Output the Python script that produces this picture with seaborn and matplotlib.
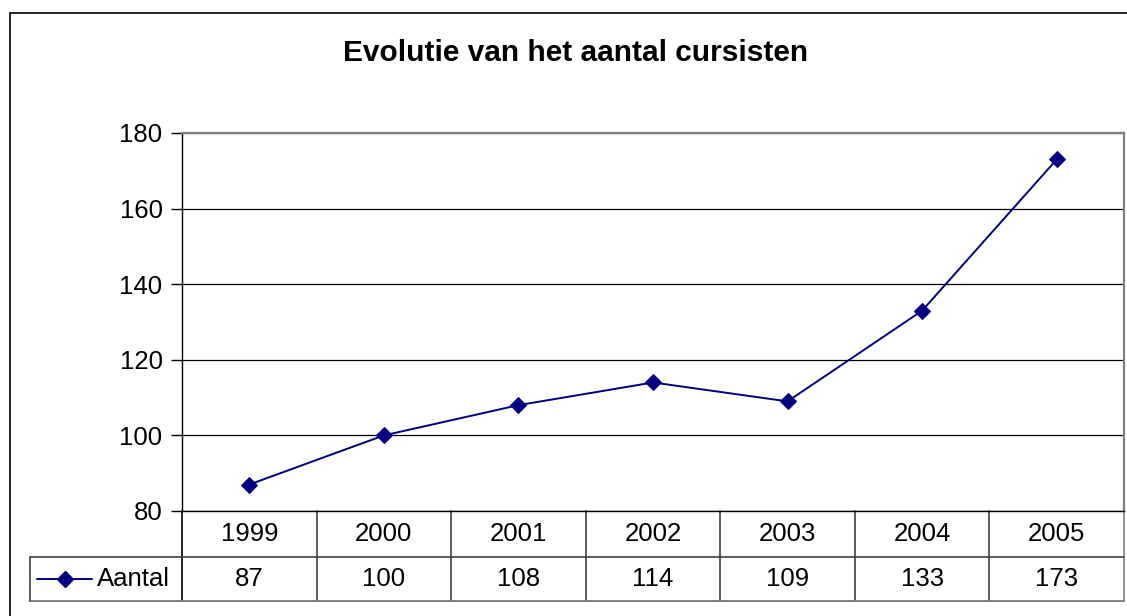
import matplotlib
matplotlib.use("Agg")
import matplotlib.pyplot as plt
import matplotlib.transforms as mtransforms
from matplotlib.lines import Line2D
from matplotlib.patches import Rectangle
import seaborn as sns
import pandas as pd

years = ["1999", "2000", "2001", "2002", "2003", "2004", "2005"]
aantal = [87, 100, 108, 114, 109, 133, 173]
series_name = "Aantal"
title = "Evolutie van het aantal cursisten"
yticks = [80, 100, 120, 140, 160, 180]

sns.set_theme(style="white")
plt.rcParams["font.family"] = ["Liberation Sans", "DejaVu Sans"]

W, H = 1127, 616
fig = plt.figure(figsize=(W / 100, H / 100), dpi=100)
fig.patch.set_facecolor("white")

def fx(px):
    return px / W

def fy(py):
    return 1 - py / H

FS = 18.5

# outer chart border
fig.patches.append(Rectangle((fx(10), fy(640)), fx(1140) - fx(10), fy(13) - fy(640),
                             transform=fig.transFigure, fill=False, edgecolor="black",
                             linewidth=1.2, figure=fig, zorder=0))

left, right, top, bottom = 182, 1124, 133, 511
ax = fig.add_axes([fx(left), fy(bottom), fx(right) - fx(left), fy(top) - fy(bottom)])

df = pd.DataFrame({"pos": range(len(years)), "value": aantal})
navy = "#000080"
sns.lineplot(data=df, x="pos", y="value", ax=ax, color=navy, marker="D",
             markersize=8, markeredgecolor=navy, linewidth=1.4, zorder=3)

ax.set_xlim(-0.5, len(years) - 0.5)
ax.set_ylim(80, 180)
ax.set_yticks(yticks)
ax.set_xticks([])
ax.set_xlabel("")
ax.set_ylabel("")
ax.yaxis.grid(True, color="black", linewidth=0.9)
ax.set_axisbelow(True)
ax.tick_params(axis="y", which="major", left=True, length=8, width=1, color="black",
               labelsize=FS, labelcolor="black", pad=6, direction="out")
for side in ["top", "right"]:
    ax.spines[side].set_color("#808080")
    ax.spines[side].set_linewidth(1.6)
ax.spines["left"].set_color("black")
ax.spines["left"].set_linewidth(1.0)
ax.spines["bottom"].set_color("black")
ax.spines["bottom"].set_linewidth(1.0)

fig.text(0.5 * (fx(346) + fx(806)), fy(53), title, ha="center", va="center",
         fontsize=21.5, fontweight="bold", color="black")

# data table below the axis
blend = mtransforms.blended_transform_factory(ax.transData, fig.transFigure)
row1_top, row1_bot, row2_bot = 511, 557, 601
tcol = "#404040"
n = len(years)
for i in range(n + 1):
    xb = i - 0.5
    ax.add_line(Line2D([xb, xb], [fy(row1_top), fy(row2_bot)], transform=blend,
                       color=tcol if 0 < i < n else ("black" if i == 0 else "#808080"),
                       linewidth=1.2, clip_on=False))
ax.add_line(Line2D([-0.5, n - 0.5], [fy(row1_bot), fy(row1_bot)], transform=blend,
                   color=tcol, linewidth=1.2, clip_on=False))
ax.add_line(Line2D([-0.5, n - 0.5], [fy(row2_bot), fy(row2_bot)], transform=blend,
                   color="#808080", linewidth=1.4, clip_on=False))
for i, (yr, v) in enumerate(zip(years, aantal)):
    ax.text(i, fy((row1_top + row1_bot) / 2), yr, transform=blend, ha="center",
            va="center", fontsize=FS, color="black")
    ax.text(i, fy((row1_bot + row2_bot) / 2), str(v), transform=blend, ha="center",
            va="center", fontsize=FS, color="black")

# legend key cell
fig.add_artist(Line2D([fx(30), fx(left)], [fy(row1_bot), fy(row1_bot)],
                      transform=fig.transFigure, color=tcol, linewidth=1.2))
fig.add_artist(Line2D([fx(30), fx(left)], [fy(row2_bot), fy(row2_bot)],
                      transform=fig.transFigure, color="#808080", linewidth=1.4))
fig.add_artist(Line2D([fx(30), fx(30)], [fy(row1_bot), fy(row2_bot)],
                      transform=fig.transFigure, color=tcol, linewidth=1.2))
ymid = fy((row1_bot + row2_bot) / 2)
fig.add_artist(Line2D([fx(37), fx(92)], [ymid, ymid], transform=fig.transFigure,
                      color=navy, linewidth=1.4))
fig.add_artist(Line2D([fx(64.5)], [ymid], transform=fig.transFigure, color=navy,
                      marker="D", markersize=8, linestyle="none"))
fig.text(fx(97), ymid, series_name, ha="left", va="center", fontsize=FS, color="black")

fig.savefig("out.png", dpi=100, facecolor="white")
